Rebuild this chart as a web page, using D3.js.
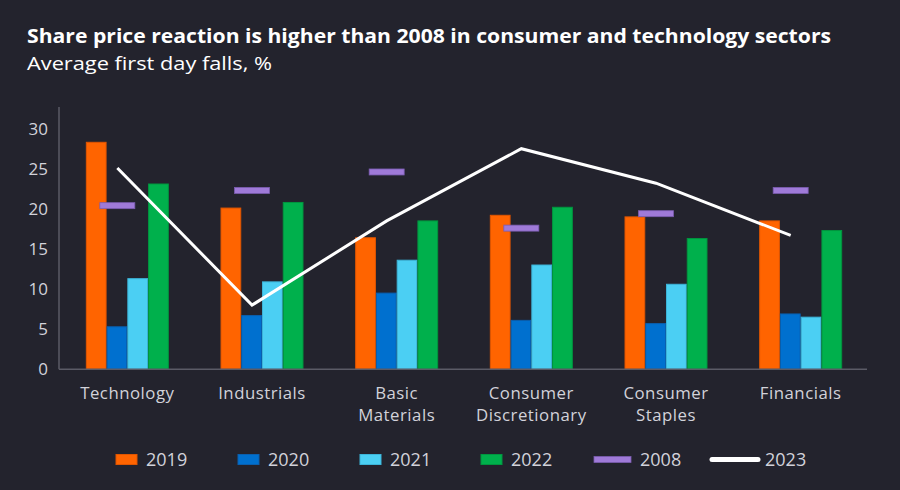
<!DOCTYPE html>
<html>
<head>
<meta charset="utf-8">
<script src="https://cdn.jsdelivr.net/npm/d3@7"></script>
<style>
  html, body { margin: 0; padding: 0; background: #23232d; }
  svg { display: block; }
  text { font-family: "Open Sans", "Noto Sans", sans-serif; }
</style>
</head>
<body>
<svg id="chart" width="900" height="490"></svg>
<script>
// ---- data ----
const categories = ["Technology", "Industrials", "Basic Materials", "Consumer Discretionary", "Consumer Staples", "Financials"];
const categoryLines = [["Technology"], ["Industrials"], ["Basic", "Materials"], ["Consumer", "Discretionary"], ["Consumer", "Staples"], ["Financials"]];
const barSeries = ["2019", "2020", "2021", "2022"];
const values2019 = [28.3, 20.1, 16.4, 19.2, 19.0, 18.5];
const values2020 = [5.3, 6.7, 9.5, 6.1, 5.7, 6.9];
const values2021 = [11.3, 10.9, 13.6, 13.0, 10.6, 6.5];
const values2022 = [23.1, 20.8, 18.5, 20.2, 16.3, 17.3];
const values2008 = [20.4, 22.3, 24.6, 17.6, 19.4, 22.3];
const values2023 = [25.1, 8.0, 18.5, 27.5, 23.2, 16.7];
const yTicks = [0, 5, 10, 15, 20, 25, 30];
const titleText = "Share price reaction is higher than 2008 in consumer and technology sectors";
const subtitleText = "Average first day falls, %";
const legendLabels = ["2019", "2020", "2021", "2022", "2008", "2023"];

// ---- styles ----
const colors = { "2019": "#ff6400", "2020": "#0070cf", "2021": "#4bcff3", "2022": "#00b04c", "2008": "#9f7ad8", "2023": "#ffffff" };
const strokes = { "2019": "#e05500", "2020": "#0a5fae", "2021": "#3cb4d8", "2022": "#00963f", "2008": "#7a5cb0" };
const textColor = "#d2d2da";

const svg = d3.select("#chart");
const seriesValues = { "2019": values2019, "2020": values2020, "2021": values2021, "2022": values2022 };

// ---- title ----
svg.append("text").attr("x", 27).attr("y", 43)
  .attr("fill", "#ffffff").attr("font-size", 20).attr("font-weight", 700)
  .attr("textLength", 804).attr("lengthAdjust", "spacingAndGlyphs")
  .text(titleText);
svg.append("text").attr("x", 27).attr("y", 70)
  .attr("fill", "#ffffff").attr("font-size", 19)
  .attr("textLength", 245).attr("lengthAdjust", "spacingAndGlyphs")
  .text(subtitleText);

// ---- scales ----
const y = d3.scaleLinear().domain([0, 32.7]).range([369.3, 107]);
const x0 = d3.scaleBand().domain(categories).range([60, 868]).paddingInner(0).paddingOuter(0);
const groupW = 83;
const x1 = d3.scaleBand().domain(barSeries).range([0, groupW]);
const groupLeft = c => x0(c) + (x0.bandwidth() - groupW) / 2;
const markerCenter = c => x0(c) + x0.bandwidth() / 2 - 10;

// ---- axes ----
const yAxis = d3.axisLeft(y).tickValues(yTicks).tickSize(0).tickPadding(11);
const gy = svg.append("g").attr("transform", "translate(59,0)").call(yAxis);
gy.select(".domain").remove();
gy.selectAll("text").attr("fill", textColor).attr("font-size", 17)
  .attr("font-family", "'Open Sans', sans-serif");

svg.append("line").attr("x1", 59).attr("x2", 59).attr("y1", 107).attr("y2", y(0))
  .attr("stroke", "#5b5b66").attr("stroke-width", 1.5);

// ---- bars ----
const groups = svg.append("g").selectAll("g").data(categories).join("g")
  .attr("transform", c => `translate(${groupLeft(c)},0)`);
groups.selectAll("rect").data((c, i) => barSeries.map(s => ({ s, v: seriesValues[s][i] })))
  .join("rect")
  .attr("x", d => x1(d.s) + 0.5)
  .attr("width", x1.bandwidth() - 1)
  .attr("y", d => y(d.v))
  .attr("height", d => y(0) - y(d.v))
  .attr("fill", d => colors[d.s])
  .attr("stroke", d => strokes[d.s])
  .attr("stroke-width", 1);

// x axis baseline
svg.append("line").attr("x1", 59).attr("x2", 867).attr("y1", y(0)).attr("y2", y(0))
  .attr("stroke", "#5b5b66").attr("stroke-width", 1.5);

// ---- 2008 markers ----
svg.append("g").selectAll("rect").data(categories).join("rect")
  .attr("x", c => markerCenter(c) - 17.5)
  .attr("width", 35)
  .attr("y", (c, i) => y(values2008[i]) - 3)
  .attr("height", 6)
  .attr("fill", colors["2008"])
  .attr("stroke", strokes["2008"]).attr("stroke-width", 0.8);

// ---- 2023 line ----
const line = d3.line().x(d => markerCenter(d.c)).y(d => y(d.v));
svg.append("path")
  .datum(categories.map((c, i) => ({ c, v: values2023[i] })))
  .attr("d", line)
  .attr("fill", "none").attr("stroke", colors["2023"]).attr("stroke-width", 3)
  .attr("stroke-linejoin", "miter");

// ---- category labels (one text element per line) ----
const labelRows = [];
categories.forEach((c, i) => categoryLines[i].forEach((t, j) => labelRows.push({ c, t, j })));
svg.append("g").selectAll("text").data(labelRows).join("text")
  .attr("x", d => x0(d.c) + x0.bandwidth() / 2)
  .attr("y", d => 398.5 + d.j * 22)
  .attr("text-anchor", "middle")
  .attr("fill", textColor)
  .attr("font-family", "Roboto, 'Open Sans', sans-serif")
  .attr("font-size", 16.8)
  .attr("letter-spacing", 0.5)
  .text(d => d.t);

// ---- legend ----
const legendX = [116, 238, 360, 481, 594, 712];
const legendY = 459.5;
const lg = svg.append("g").selectAll("g").data(legendLabels).join("g")
  .attr("transform", (d, i) => `translate(${legendX[i]},${legendY})`);
lg.each(function (d) {
  const g = d3.select(this);
  let w;
  if (barSeries.includes(d)) {
    w = 21;
    g.append("rect").attr("x", 0).attr("y", -5).attr("width", 21).attr("height", 10)
      .attr("fill", colors[d]).attr("stroke", strokes[d]).attr("stroke-width", 1);
  } else if (d === "2008") {
    w = 37;
    g.append("rect").attr("x", 0).attr("y", -3).attr("width", 37).attr("height", 6)
      .attr("fill", colors[d]).attr("stroke", strokes[d]).attr("stroke-width", 0.8);
  } else {
    w = 46;
    g.append("line").attr("x1", 0).attr("x2", 46).attr("y1", 0).attr("y2", 0)
      .attr("stroke", colors[d]).attr("stroke-width", 5).attr("stroke-linecap", "round");
  }
  g.append("text").attr("x", w + (d === "2008" ? 9 : d === "2023" ? 7 : 9)).attr("y", 0)
    .attr("dy", "0.35em").attr("fill", textColor).attr("font-size", 18)
    .text(d);
});
</script>
</body>
</html>
